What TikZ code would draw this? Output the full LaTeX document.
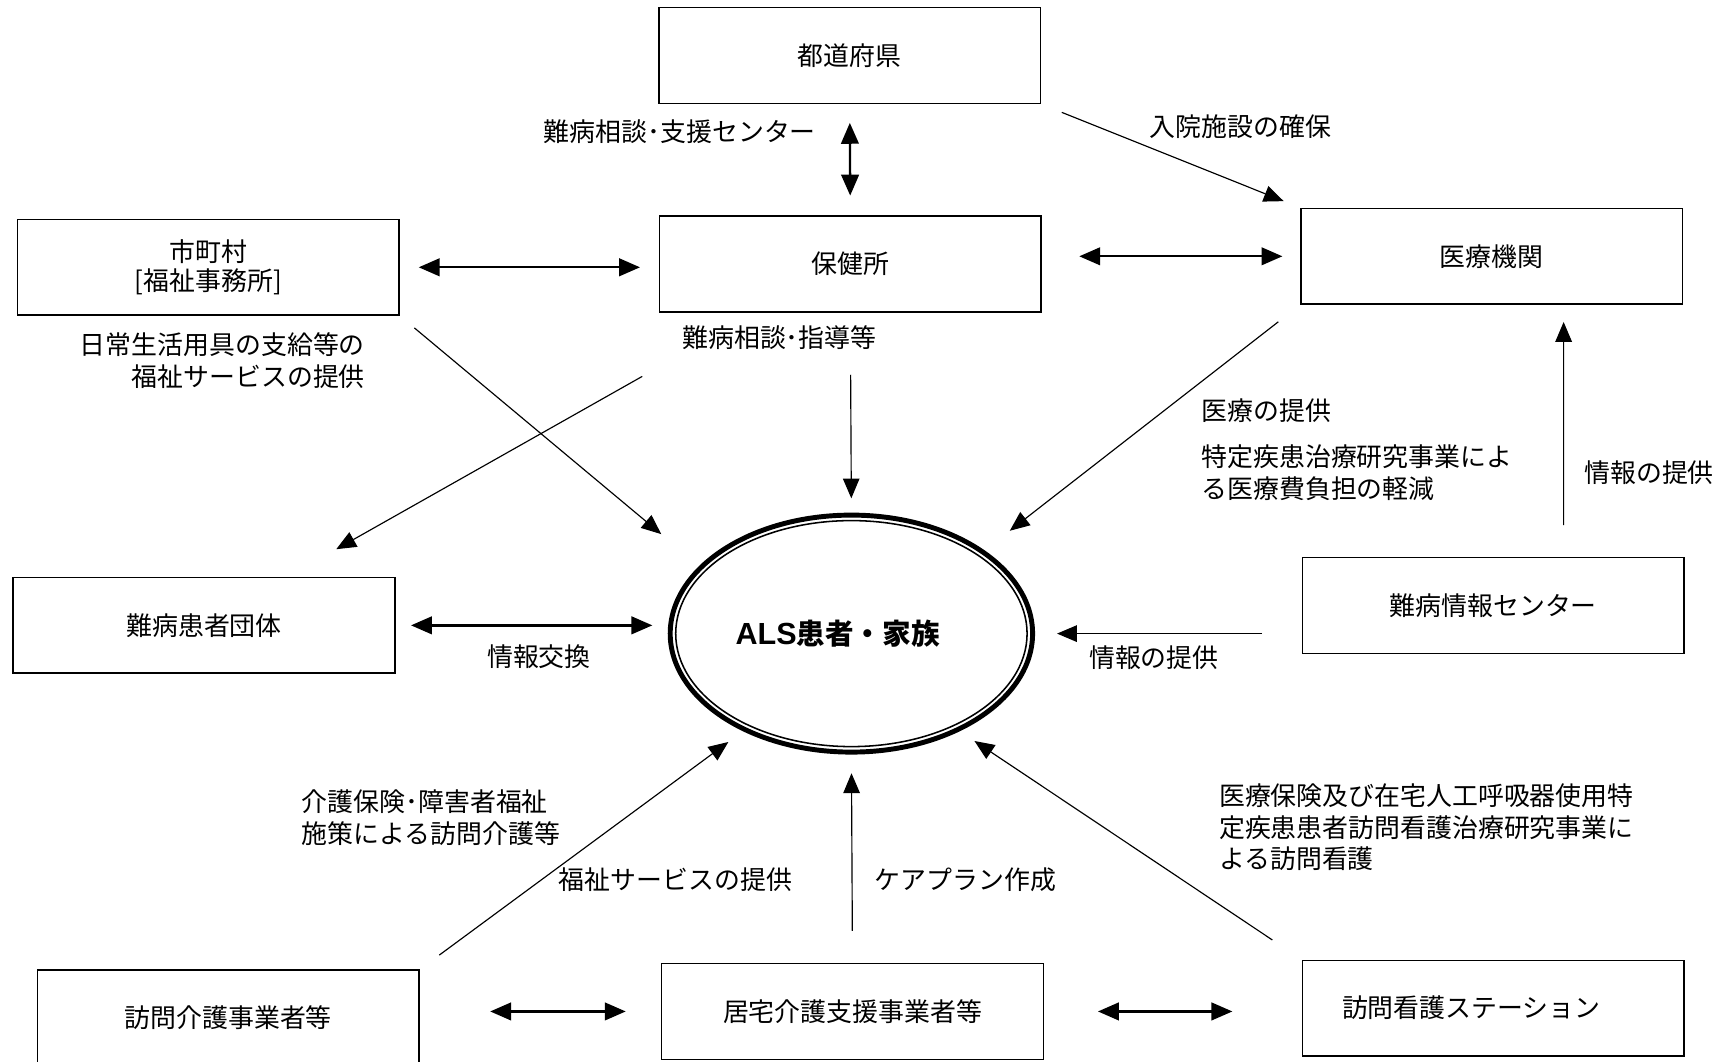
\documentclass[tikz,border=0pt]{standalone}
\usepackage{fontspec}
\setmainfont{Noto Sans CJK JP}
\newfontfamily\alsfont{Liberation Sans}
\usetikzlibrary{arrows.meta, shapes.geometric}

\begin{document}
\begin{tikzpicture}[x=0.02cm, y=-0.02cm,
    box/.style={draw, line width=0.8pt, minimum width=6.94cm, minimum height=1.74cm, inner sep=0pt, align=center, font=\fontsize{13.4}{14.7}\selectfont},
    lbl/.style={inner sep=0pt, font=\fontsize{13.4}{16.5}\selectfont},
    arr/.style={-{Triangle[length=0.36cm, width=0.3cm]}, line width=0.6pt},
    dbl/.style={{Triangle[length=0.38cm, width=0.32cm]}-{Triangle[length=0.38cm, width=0.32cm]}, line width=1.2pt}]
    \fill[white] (0,0) rectangle (1567.3,964.6);
    \useasboundingbox (0,0) rectangle (1567.3,964.6);

    \node[box] (pref) at (772.5,50.5) {都道府県};
    \node[box] (hc) at (773,240) {保健所};
    \node[box] (city) at (189.5,243) {市町村\\{}[福祉事務所]};
    \node[box] (hosp) at (1356,233) {医療機関};
    \node[box] (group) at (185.5,568.5) {難病患者団体};
    \node[box] (info) at (1357.5,550.5) {難病情報センター};
    \node[box] (visitcare) at (207.5,925.5) {訪問介護事業者等};
    \node[box] (careplan) at (775,919.5) {居宅介護支援事業者等};
    \node[box] (nursing) at (1357.5,916.5) {訪問看護ステーション\hspace*{0.8cm}};

    \node[draw, ellipse, line width=2.55pt, minimum width=6.59cm, minimum height=4.31cm, inner sep=0pt, font=\fontsize{14.8}{16}\selectfont\bfseries] (als) at (774,576) {{\alsfont\fontsize{15.8}{16}\selectfont ALS}患者・家族\hspace*{0.5cm}};
    \draw[line width=0.8pt] (als.center) ellipse [x radius=3.195cm, y radius=2.055cm];

    \draw[dbl, shorten <=0.34cm, shorten >=0.36cm] (pref.south) -- (hc.north);
    \draw[arr, shorten <=0.4cm, shorten >=0.32cm] (pref.south east) -- (hosp.north west);
    \draw[dbl, shorten <=0.34cm, shorten >=0.34cm] (city.east) -- (city.east -| hc.west);
    \draw[dbl, shorten <=0.68cm, shorten >=0.32cm] (hosp.west -| hc.east) -- (hosp.west);
    \draw[arr, shorten <=0.34cm, shorten >=0.9cm] (city.south east) -- (als.156);
    \draw[arr] ([shift={(-15,58)}]hc.south west) -- ([shift={(-54,-25)}]group.north east);
    \draw[arr, shorten <=1.13cm, shorten >=0.26cm] (hc.south) -- (als.north);
    \draw[arr, shorten <=0.5cm, shorten >=0.58cm] (hosp.south west) -- (als.32);
    \draw[arr, shorten <=0.58cm, shorten >=0.31cm] ([xshift=1.28cm]info.north) -- ([xshift=1.31cm]hosp.south);
    \draw[dbl, shorten <=0.28cm, shorten >=0.28cm] (group.east) -- (group.east -| als.west);
    \draw[arr, shorten <=0.72cm, shorten >=0.4cm] (info.west |- als.east) -- (als.east);
    \draw[arr, shorten <=0.44cm, shorten >=0.33cm] (visitcare.north east) -- (als.222);
    \draw[arr, shorten <=0.58cm, shorten >=0.34cm] (careplan.north) -- (als.south);
    \draw[arr, shorten <=0.64cm, shorten >=0.32cm] (nursing.north west) -- (als.318);
    \draw[dbl, shorten <=1.28cm, shorten >=0.64cm] (careplan.west -| visitcare.east) -- (careplan.west);
    \draw[dbl, shorten <=0.98cm, shorten >=1.26cm] (careplan.east) -- (careplan.east -| nursing.west);

    \node[lbl, anchor=east] (l-center) at (742,120) {難病相談･支援センター};
    \node[lbl, anchor=west] (l-bed) at (1045,115) {入院施設の確保};
    \node[lbl, anchor=east, align=right] (l-goods) at (332,327.5) {日常生活用具の支給等の\\福祉サービスの提供};
    \node[lbl, anchor=west] (l-consult) at (620,307) {難病相談･指導等};
    \node[lbl, anchor=west] (l-med) at (1092,373) {医療の提供};
    \node[lbl, anchor=west, align=left] (l-cost) at (1092,429.5) {特定疾患治療研究事業によ\\る医療費負担の軽減};
    \node[lbl, anchor=west] (l-info1) at (1440,430) {情報の提供};
    \node[lbl] (l-exch) at (490,597) {情報交換};
    \node[lbl] (l-info2) at (1049,598) {情報の提供};
    \node[lbl, anchor=west, align=left] (l-homecare) at (274,743.5) {介護保険･障害者福祉\\施策による訪問介護等};
    \node[lbl] (l-welfare) at (614,800) {福祉サービスの提供};
    \node[lbl, anchor=west] (l-plan) at (795,800) {ケアプラン作成};
    \node[lbl, anchor=west, align=left] (l-nurse) at (1108,752) {医療保険及び在宅人工呼吸器使用特\\定疾患患者訪問看護治療研究事業に\\よる訪問看護};
\end{tikzpicture}
\end{document}
